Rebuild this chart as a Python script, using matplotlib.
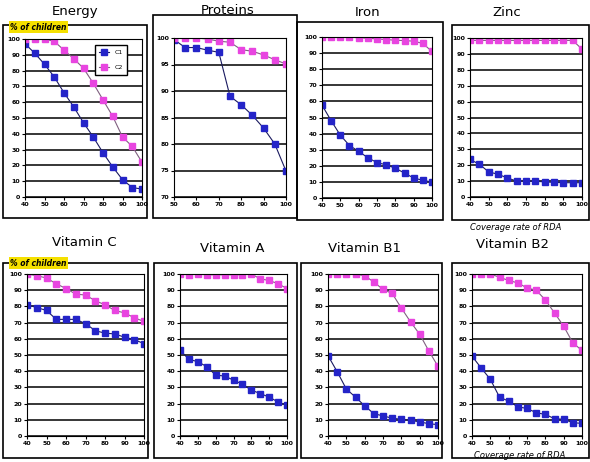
import matplotlib
matplotlib.use('Agg')
import matplotlib.pyplot as plt
from matplotlib.patches import Rectangle

W, H = 590, 462

coverage = [40, 45, 50, 55, 60, 65, 70, 75, 80, 85, 90, 95, 100]
coverage_prot = [50, 55, 60, 65, 70, 75, 80, 85, 90, 95, 100]

energy_c1 = [97, 91, 84, 76, 66, 57, 47, 38, 28, 19, 11, 6, 5]
energy_c2 = [100, 100, 100, 98.5, 93, 87.5, 81.5, 72, 61.5, 51, 38, 32, 22]
proteins_c1 = [99.7, 98.2, 98.2, 97.7, 97.3, 89, 87.4, 85.4, 83, 80, 74.9]
proteins_c2 = [100, 100, 100, 99.8, 99.4, 99.2, 97.8, 97.5, 96.8, 95.9, 95.1]
iron_c1 = [57.7, 48, 39, 32.6, 29, 25, 22, 20.6, 18.5, 15.5, 12.4, 11, 9.9]
iron_c2 = [100, 100, 100, 99.8, 99.6, 99.2, 98.8, 98.4, 98, 97.8, 97.4, 96, 91]
zinc_c1 = [23.6, 20.6, 15.8, 14.3, 12, 10, 10, 9.9, 9.5, 9.2, 9, 9, 9]
zinc_c2 = [98.5, 98.5, 98.5, 98.5, 98.5, 98.5, 98.5, 98.5, 98.5, 98.5, 98.5, 98.5, 93]
vitc_c1 = [81, 79.3, 77.5, 72, 72, 72, 69.4, 65, 63.5, 63, 61, 59.5, 57]
vitc_c2 = [100, 99, 97.5, 94, 91, 87.6, 87, 83.5, 81, 77.5, 76, 73, 70.7]
vita_c1 = [53, 47.3, 45.9, 42.8, 37.6, 37, 34.5, 32, 28.3, 26.2, 24, 21, 19]
vita_c2 = [100, 99.5, 100, 99.5, 99.5, 99.5, 99.5, 99.5, 100, 97, 96, 94, 91]
vitb1_c1 = [49.6, 39.7, 29, 24, 18.6, 13.8, 12.4, 11, 10.3, 9.7, 8.7, 7.6, 7]
vitb1_c2 = [100, 100, 100, 99.8, 99, 95, 90.5, 88, 79, 70.5, 62.8, 52.5, 43]
vitb2_c1 = [49.3, 42, 35, 24, 21.5, 18, 17, 14.4, 13.3, 10.7, 10.3, 8.2, 7.8]
vitb2_c2 = [100, 100, 100, 98, 96, 94.5, 91.4, 90, 84, 76, 67.8, 57.5, 52.8]

blue = '#2424c8'
pink = '#e845e0'

fig = plt.figure(figsize=(W / 100, H / 100), dpi=100)
fig.patch.set_facecolor('white')


def fx(px):
    return px / W


def fy(py):
    return 1 - py / H


def frame(left, top, right, bottom):
    fig.patches.append(Rectangle((fx(left), fy(bottom)), fx(right - left), (bottom - top) / H,
                                 transform=fig.transFigure, fill=False, edgecolor='black',
                                 linewidth=1.2))


def panel(box, title, title_xy, x, c1, c2, xlim, ylim, yticks, xticks):
    left, top, right, bottom = box
    ax = fig.add_axes([fx(left), fy(bottom), fx(right - left), (bottom - top) / H])
    ax.plot(x, c1, color='#1a1a60', lw=0.8, marker='s', ms=4, mfc=blue, mec=blue, label='C1')
    ax.plot(x, c2, color='#806080', lw=0.8, marker='s', ms=4, mfc=pink, mec=pink, label='C2')
    ax.set_xlim(*xlim)
    ax.set_ylim(*ylim)
    ax.set_xticks(xticks)
    ax.set_yticks(yticks)
    ax.tick_params(labelsize=4.5, length=2, pad=1.5, width=0.8)
    for lab in ax.get_xticklabels() + ax.get_yticklabels():
        lab.set_fontweight('bold')
    ax.grid(axis='y', color='black', lw=1.1)
    ax.set_axisbelow(True)
    for s in ax.spines.values():
        s.set_linewidth(0.8)
    fig.text(fx(title_xy[0]), fy(title_xy[1]), title, ha='center', va='center', fontsize=9.5)
    return ax


xt = [40, 50, 60, 70, 80, 90, 100]
yt = [0, 10, 20, 30, 40, 50, 60, 70, 80, 90, 100]

ax_e = panel((25, 39, 142, 197), 'Energy', (75, 12), coverage, energy_c1, energy_c2,
             (40, 100), (0, 100), yt, xt)
ax_e.legend(loc='upper right', bbox_to_anchor=(0.9, 0.98), fontsize=4.5, frameon=True,
            fancybox=False, edgecolor='black', framealpha=1, handlelength=1.6,
            borderpad=0.7, labelspacing=1.6)
panel((174, 38, 286, 197), 'Proteins', (228, 10), coverage_prot, proteins_c1, proteins_c2,
      (50, 100), (70, 100), [70, 75, 80, 85, 90, 95, 100], [50, 60, 70, 80, 90, 100])
panel((322, 37, 432, 198), 'Iron', (368, 12), coverage, iron_c1, iron_c2,
      (40, 100), (0, 100), yt, xt)
panel((470, 38, 582, 197), 'Zinc', (507, 12), coverage, zinc_c1, zinc_c2,
      (40, 100), (0, 100), yt, xt)
panel((27, 274, 144, 436), 'Vitamin C', (84, 243), coverage, vitc_c1, vitc_c2,
      (40, 100), (0, 100), yt, xt)
panel((180, 274, 287, 436), 'Vitamin A', (232, 249), coverage, vita_c1, vita_c2,
      (40, 100), (0, 100), yt, xt)
panel((328, 274, 438, 436), 'Vitamin B1', (365, 249), coverage, vitb1_c1, vitb1_c2,
      (40, 100), (0, 100), yt, xt)
panel((472, 274, 582, 436), 'Vitamin B2', (512, 245), coverage, vitb2_c1, vitb2_c2,
      (40, 100), (0, 100), yt, xt)

# outer boxes
frame(3, 25, 147, 218)
frame(153, 15, 297, 218)
frame(297, 22, 443, 220)
frame(452, 25, 589, 220)
frame(3, 263, 148, 458)
frame(154, 263, 297, 458)
frame(301, 263, 442, 458)
frame(452, 263, 589, 458)

# axis captions
for ypx in (27, 263):
    fig.text(fx(10), fy(ypx), '% of children', fontsize=5.5, fontweight='bold',
             style='italic', ha='left', va='center',
             bbox=dict(facecolor='#f5e000', edgecolor='none', pad=1))
fig.text(fx(470), fy(228), 'Coverage rate of RDA', fontsize=6, style='italic',
         ha='left', va='center')
fig.text(fx(474), fy(456), 'Coverage rate of RDA', fontsize=6, style='italic',
         ha='left', va='center')

fig.savefig('out.png', dpi=100)
